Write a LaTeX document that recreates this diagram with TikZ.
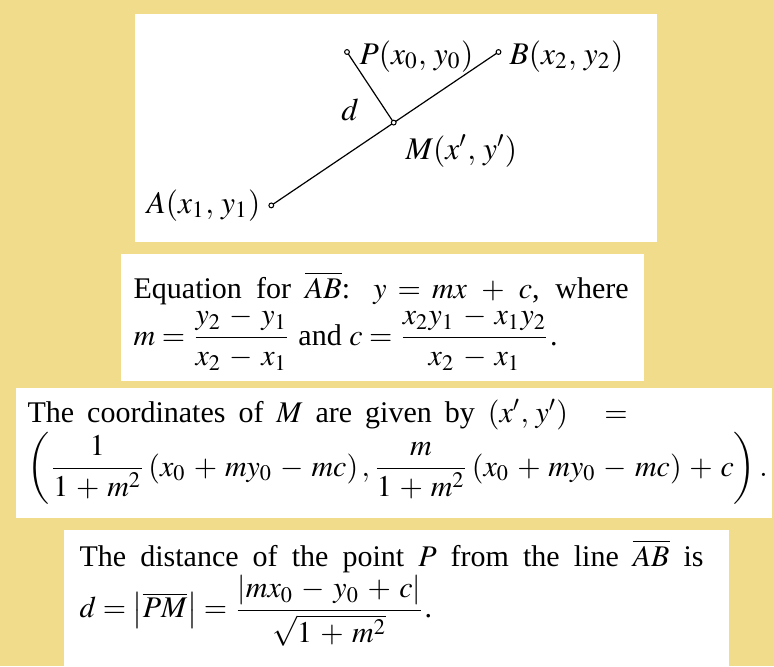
\documentclass[tikz,border=0pt]{standalone}
\usepackage{mathptmx}
\usepackage{amsmath}
\usepackage[no-math]{fontspec}
\setmainfont{Liberation Serif}
\medmuskip=5mu plus 2mu minus 3mu\relax
\definecolor{bgyellow}{RGB}{240,220,138}
\tikzset{
  pt/.style={circle,draw,fill=white,inner sep=0pt,minimum size=1.6pt,line width=0.35pt},
  lbl/.style={inner sep=0pt,font=\fontsize{10.5}{12}\selectfont},
  txt/.style={inner sep=0pt,anchor=base west,font=\normalsize,align=justify},
  seg/.style={line width=0.4pt}
}
\begin{document}
\begin{tikzpicture}[x=0.3333pt,y=-0.3333pt]
\fill[bgyellow] (0,0) rectangle (774,666);
\useasboundingbox (0,0) rectangle (774,666);
% white panels
\fill[white] (135,14) rectangle (657,242);
\fill[white] (121,254) rectangle (644,381);
\fill[white] (16,388) rectangle (772,518);
\fill[white] (64,530) rectangle (729,666);
% figure
\coordinate (A) at (271.3,205.4);
\coordinate (B) at (498.5,52);
\coordinate (M) at (393.7,122.6);
\coordinate (P) at (347,52);
\draw[seg] (A) -- (B);
\draw[seg] (P) -- (M);
\node[pt] (a) at (A) {};
\node[pt] (b) at (B) {};
\node[pt] (m) at (M) {};
\node[pt] (p) at (P) {};
\node[lbl,anchor=base east] (la) at (261,213) {$A(x_1,\,y_1)$};
\node[lbl,anchor=base west] (lp) at (359,64) {$P(x_0,\,y_0)$};
\node[lbl,anchor=base west] (lb) at (509,64) {$B(x_2,\,y_2)$};
\node[lbl,anchor=base] (ld) at (350,120) {$d$};
\node[lbl,anchor=base west] (lm) at (405,159) {$M(x',\,y')$};
% texts
\node[txt,text width=165pt] (t1) at (133,298)
 {Equation for $\overline{AB}$: $y = mx + c$, where\linebreak
  $m = \dfrac{y_2-y_1}{x_2-x_1}$ and $c = \dfrac{x_2y_1-x_1y_2}{x_2-x_1}$.};
\node[txt,text width=200pt] (t2) at (27,422)
 {The coordinates of $M$ are given by $(x',\,y')\ \ =$\linebreak
  \makebox[200pt][l]{\medmuskip=4.7mu\relax$\left(\dfrac{1}{1+m^2}\,(x_0+my_0-mc)\,,\dfrac{m}{1+m^2}\,(x_0+my_0-mc)+c\right).$}};
\node[txt,text width=208pt] (t3) at (79,566)
 {The distance of the point $P$ from the line $\overline{AB}$ is\linebreak
  $d = \left|\overline{PM}\right| = \dfrac{|mx_0-y_0+c|}{\sqrt{1+m^2}}$.};
\end{tikzpicture}
\end{document}
